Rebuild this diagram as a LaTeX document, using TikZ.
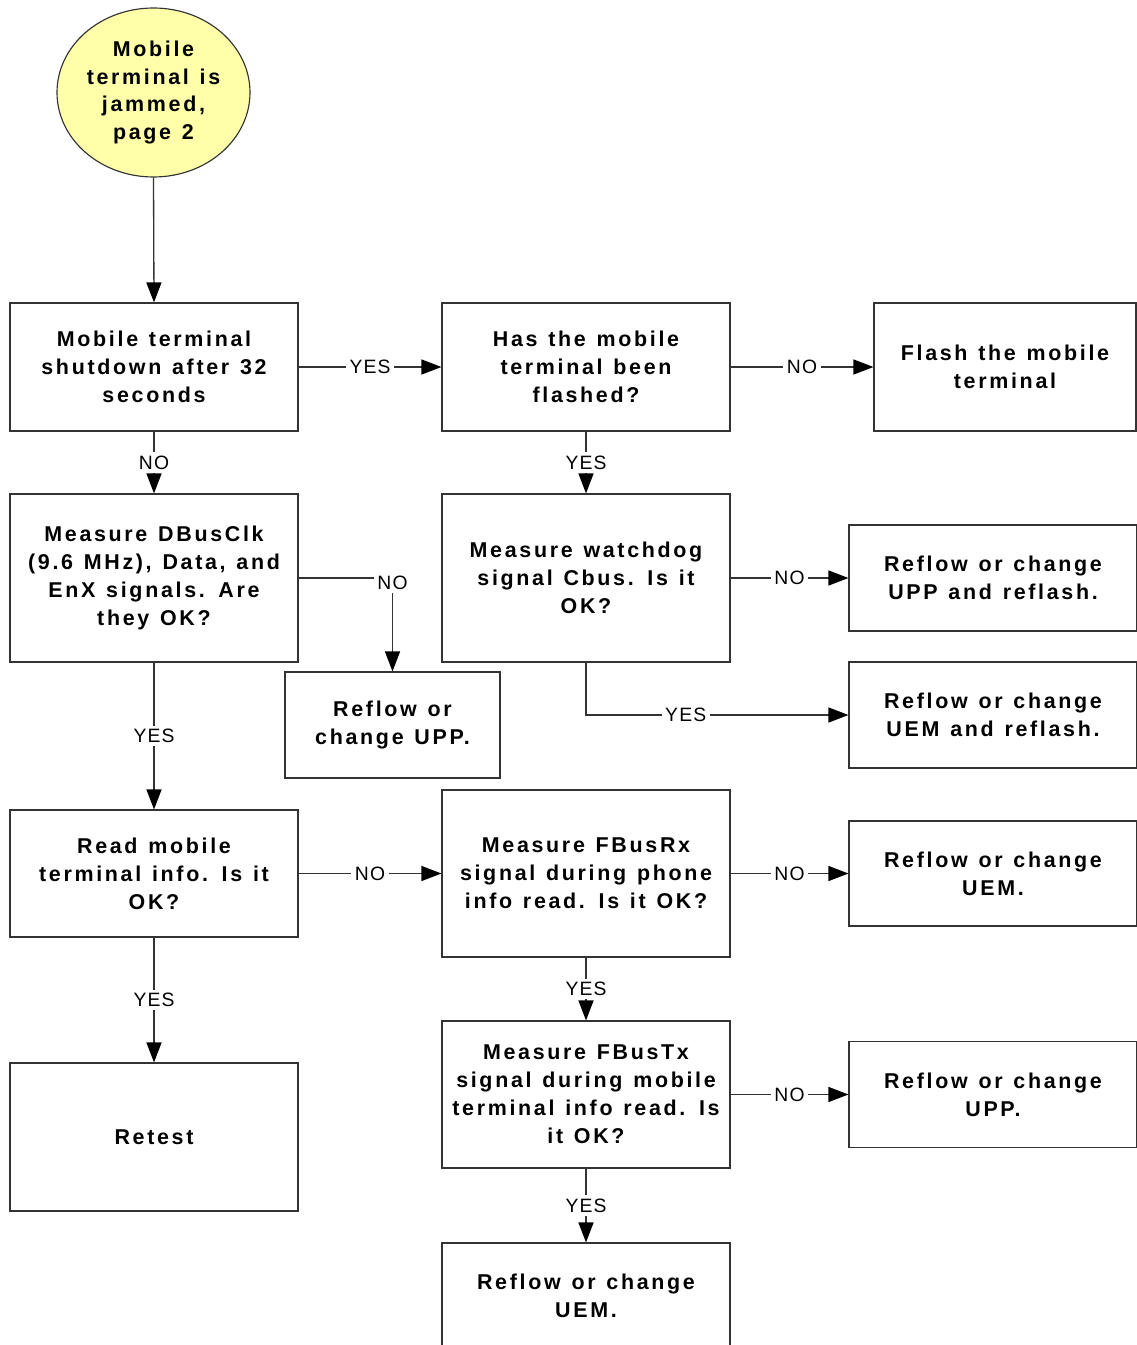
\documentclass[tikz,border=0pt]{standalone}
\usepackage{fontspec}
\usetikzlibrary{arrows.meta,shapes.geometric}

\newfontfamily\boxfont{Liberation Sans}[LetterSpace=12.5,WordSpace=1.25]
\newfontfamily\labelfont{Liberation Sans}[LetterSpace=6]

\definecolor{startfill}{HTML}{FFFFAA}
\definecolor{edge}{HTML}{333333}

\tikzset{
  sz/.style 2 args={minimum width=#1*0.02cm, minimum height=#2*0.02cm},
  stepbox/.style={draw=edge, line width=0.65pt, align=center, inner sep=0pt,
    font={\boxfont\bfseries\fontsize{12.2}{15.9}\selectfont}},
  flow/.style={draw=edge, line width=0.75pt,
    -{Triangle[length=0.4cm,width=0.3cm,color=black]}},
  lbl/.style={fill=white, inner sep=2pt, text=black,
    font={\labelfont\fontsize{11}{13}\selectfont}},
}

\begin{document}
\begin{tikzpicture}[x=0.02cm,y=-0.02cm]
\useasboundingbox (0,0) rectangle (1136,1345);

% start terminator
\node[stepbox, ellipse, fill=startfill, sz={193}{169}] (start) at (153.5,92.5)
  {Mobile\\terminal is\\jammed,\\page 2};

% process and decision boxes
\node[stepbox, sz={288}{128}] (A) at (154,367) {Mobile terminal\\shutdown after 32\\seconds};
\node[stepbox, sz={288}{128}] (B) at (586,367) {Has the mobile\\terminal been\\flashed?};
\node[stepbox, sz={262}{128}] (C) at (1005,367) {Flash the mobile\\terminal};
\node[stepbox, sz={288}{168}] (D) at (154,578) {Measure DBusClk\\(9.6 MHz), Data, and\\EnX signals. Are\\they OK?};
\node[stepbox, sz={288}{168}] (E) at (586,578) {Measure watchdog\\signal Cbus. Is it\\OK?};
\node[stepbox, sz={288}{106}] (F) at (993,578) {Reflow or change\\UPP and reflash.};
\node[stepbox, sz={288}{106}] (G) at (993,715) {Reflow or change\\UEM and reflash.};
\node[stepbox, sz={215}{106}] (H) at (392.5,725) {Reflow or\\change UPP.};
\node[stepbox, sz={288}{127}] (I) at (154,873.5) {Read mobile\\terminal info. Is it\\OK?};
\node[stepbox, sz={288}{167}] (J) at (586,873.5) {Measure FBusRx\\signal during phone\\info read. Is it OK?};
\node[stepbox, sz={288}{105}] (K) at (993,873.5) {Reflow or change\\UEM.};
\node[stepbox, sz={288}{148}] (L) at (154,1137) {Retest};
\node[stepbox, sz={288}{147}] (M) at (586,1094.5) {Measure FBusTx\\signal during mobile\\terminal info read. Is\\it OK?};
\node[stepbox, sz={288}{106}] (N) at (993,1094.5) {Reflow or change\\UPP.};
\node[stepbox, sz={288}{106}] (O) at (586,1296) {Reflow or change\\UEM.};

% connectors
\draw[flow] (start.south) -- (A.north);
\draw[flow] (A) -- node[lbl]{YES} (B);
\draw[flow] (B) -- node[lbl]{NO} (C);
\draw[flow] (A) -- node[lbl]{NO} (D);
\draw[flow] (B) -- node[lbl]{YES} (E);
\draw[flow] (D.east) -| node[lbl, pos=0.5, yshift=-0.1cm]{NO} (H.north);
\draw[flow] (E) -- node[lbl]{NO} (F);
\draw[flow] (E.south) |- node[lbl, pos=0.69]{YES} (G.west);
\draw[flow] (D) -- node[lbl]{YES} (I);
\draw[flow] (I) -- node[lbl]{NO} (J);
\draw[flow] (J) -- node[lbl]{NO} (K);
\draw[flow] (I) -- node[lbl]{YES} (L);
\draw[flow] (J) -- node[lbl]{YES} (M);
\draw[flow] (M) -- node[lbl]{NO} (N);
\draw[flow] (M) -- node[lbl]{YES} (O);
\end{tikzpicture}
\end{document}
